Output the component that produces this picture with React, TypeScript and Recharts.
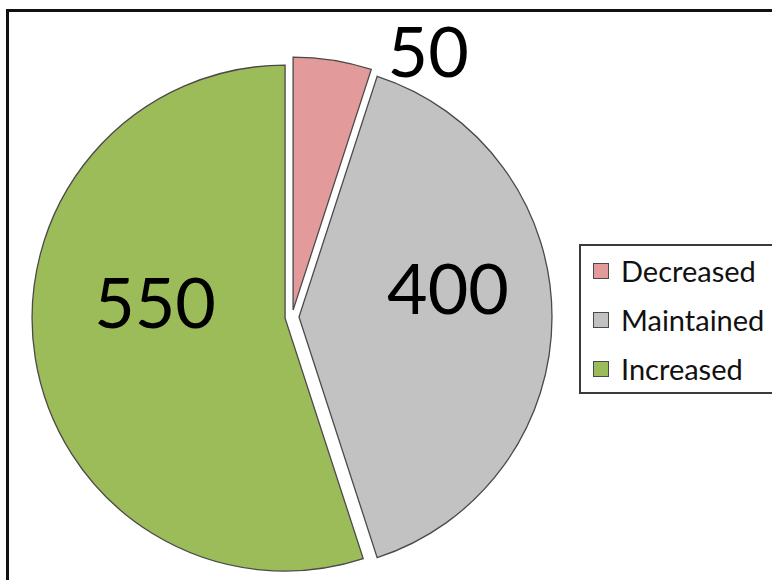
import React from "react";
import { PieChart, Pie, Cell, Legend } from "recharts";

const categories = ["Decreased", "Maintained", "Increased"];
const values = [50, 400, 550];
const labelTexts = ["50", "400", "550"];

const COLORS = ["#E39A9B", "#C2C2C2", "#9CBB59"];
const STROKE = "#4a4a4a";
const FONT = "Lato, 'Open Sans', sans-serif";

const CX = 292;
const CY = 317;
const RADIUS = 253;
const EXPLODE = 7;
const START = 90;
const END = -270;

// label offset relative to slice centre, in units of radius
const LABEL_OFFSETS = [
  { dx: 0.534, dy: -1.028 },
  { dx: 0.589, dy: -0.119 },
  { dx: -0.514, dy: -0.067 },
];

const data = categories.map((name, i) => ({ name, value: values[i] }));
const total = values.reduce((a, b) => a + b, 0);

const midAngles = values.map((v, i) => {
  const before = values.slice(0, i).reduce((a, b) => a + b, 0);
  const s = START + ((END - START) * before) / total;
  const e = START + ((END - START) * (before + v)) / total;
  return (s + e) / 2;
});

const RAD = Math.PI / 180;

const renderLegend = () => (
  <div
    style={{
      boxSizing: "border-box",
      width: 200,
      height: 150,
      border: "2px solid #3a3a3a",
      borderRight: "none",
      background: "#fff",
      fontFamily: FONT,
      fontSize: 29,
      color: "#111",
    }}
  >
    {categories.map((c, i) => (
      <div
        key={c}
        style={{ height: 49, display: "flex", alignItems: "center", paddingLeft: 12 }}
      >
        <span
          style={{
            display: "inline-block",
            width: 14,
            height: 14,
            background: COLORS[i],
            border: `1px solid ${STROKE}`,
            marginRight: 12,
          }}
        />
        <span style={{ lineHeight: 1 }}>{c}</span>
      </div>
    ))}
  </div>
);

export default function App() {
  return (
    <div style={{ position: "absolute", left: 0, top: 0, width: 772, height: 580, background: "#fff", overflow: "hidden" }}>
      <div
        style={{
          position: "absolute",
          left: 6,
          top: 9,
          width: 800,
          height: 600,
          borderTop: "3px solid #111",
          borderLeft: "3px solid #111",
        }}
      />
      <div style={{ position: "absolute", left: 0, top: 0 }}>
        <PieChart width={772} height={580} margin={{ top: 0, right: 0, bottom: 0, left: 0 }}>
          {values.map((_, k) => {
            const cx = CX + EXPLODE * Math.cos(midAngles[k] * RAD);
            const cy = CY - EXPLODE * Math.sin(midAngles[k] * RAD);
            return (
              <Pie
                key={k}
                data={data}
                dataKey="value"
                nameKey="name"
                cx={cx}
                cy={cy}
                outerRadius={RADIUS}
                startAngle={START}
                endAngle={END}
                isAnimationActive={false}
                labelLine={false}
                legendType="none"
                label={(p: any) => {
                  if (p.index !== k) return null;
                  const off = LABEL_OFFSETS[k];
                  return (
                    <text
                      x={cx + off.dx * RADIUS}
                      y={cy + off.dy * RADIUS}
                      textAnchor="middle"
                      dominantBaseline="central"
                      fontFamily={FONT}
                      fontSize={70}
                      fill="#000"
                    >
                      {labelTexts[k]}
                    </text>
                  );
                }}
              >
                {data.map((d, i) => (
                  <Cell
                    key={d.name}
                    fill={i === k ? COLORS[i] : "none"}
                    stroke={i === k ? STROKE : "none"}
                    strokeWidth={i === k ? 1.3 : 0}
                  />
                ))}
              </Pie>
            );
          })}
          <Legend
            content={renderLegend}
            wrapperStyle={{ position: "absolute", left: 579, top: 244, width: 200, height: 150 }}
          />
        </PieChart>
      </div>
    </div>
  );
}
